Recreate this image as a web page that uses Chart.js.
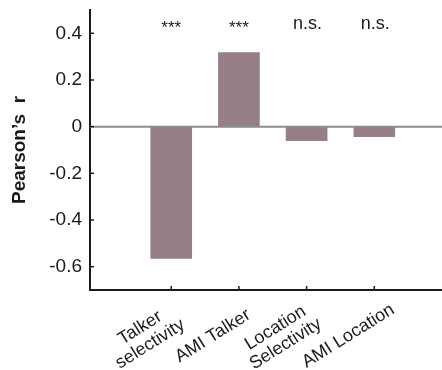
<!DOCTYPE html>
<html>
<head>
<meta charset="utf-8">
<script src="https://cdn.jsdelivr.net/npm/chart.js@4"></script>
<style>
  body { margin: 0; background: #fff; }
  #wrap { width: 442px; height: 370px; position: relative; }
</style>
</head>
<body>
<div id="wrap"><canvas id="corrChart"></canvas></div>
<script>
// Chart data
const categories = [['Talker', 'selectivity'], ['AMI Talker'], ['Location', 'Selectivity'], ['AMI Location']];
const correlations = [-0.565, 0.317, -0.06, -0.043];
const sigLabels = ['***', '***', 'n.s.', 'n.s.'];
const yTicks = [-0.6, -0.4, -0.2, 0, 0.2, 0.4];

const FONT = '"Liberation Sans", Arial, Helvetica, sans-serif';
const barColor = '#968085';
const axisColor = '#1a1a1a';

// Zero line, inward ticks, category labels and significance labels
const extrasPlugin = {
    id: 'extras',
    afterDatasetsDraw(chart) {
        const ctx = chart.ctx;
        const x = chart.scales.x;
        const y = chart.scales.y;
        const area = chart.chartArea;
        ctx.save();

        // grey line at r = 0
        const y0 = y.getPixelForValue(0);
        ctx.strokeStyle = '#8c8c8c';
        ctx.lineWidth = 2;
        ctx.beginPath();
        ctx.moveTo(area.left, y0);
        ctx.lineTo(area.right, y0);
        ctx.stroke();

        // inward tick marks
        ctx.strokeStyle = axisColor;
        ctx.lineWidth = 1.5;
        yTicks.forEach(v => {
            const py = y.getPixelForValue(v);
            ctx.beginPath();
            ctx.moveTo(area.left, py);
            ctx.lineTo(area.left + 4, py);
            ctx.stroke();
        });
        categories.forEach((c, i) => {
            const px = x.getPixelForValue(i + 1);
            ctx.beginPath();
            ctx.moveTo(px, area.bottom);
            ctx.lineTo(px, area.bottom - 4);
            ctx.stroke();
        });

        // rotated category labels, lines centred on each other
        ctx.fillStyle = '#1a1a1a';
        ctx.font = '18px ' + FONT;
        ctx.textAlign = 'center';
        ctx.textBaseline = 'middle';
        const lineH = 19;
        categories.forEach((lines, i) => {
            const px = x.getPixelForValue(i + 1);
            ctx.save();
            ctx.translate(px - 26, area.bottom + 46);
            ctx.rotate(-32 * Math.PI / 180);
            lines.forEach((t, j) => {
                ctx.fillText(t, 0, (j - (lines.length - 1) / 2) * lineH);
            });
            ctx.restore();
        });

        // significance labels above bars
        ctx.textBaseline = 'alphabetic';
        const meta = chart.getDatasetMeta(0);
        sigLabels.forEach((s, i) => {
            const px = meta.data[i].x;
            if (s === '***') {
                ctx.font = '17px ' + FONT;
                ctx.fillText(s, px, 33);
            } else {
                ctx.font = '18px ' + FONT;
                ctx.fillText(s, px + 1, 29);
            }
        });
        ctx.restore();
    }
};

const ctx = document.getElementById('corrChart').getContext('2d');
new Chart(ctx, {
    type: 'bar',
    data: {
        datasets: [{
            data: correlations.map((v, i) => ({ x: i + 1, y: v })),
            backgroundColor: barColor,
            borderWidth: 0,
            barThickness: 41
        }]
    },
    options: {
        responsive: true,
        maintainAspectRatio: false,
        animation: false,
        layout: { padding: { top: 10, right: 0, left: 0, bottom: 0 } },
        plugins: {
            legend: { display: false },
            tooltip: { enabled: false }
        },
        scales: {
            x: {
                type: 'linear',
                offset: false,
                min: -0.2,
                max: 5,
                grid: { display: false, drawTicks: false, offset: false },
                border: { color: axisColor, width: 2 },
                afterBuildTicks: scale => {
                    scale.ticks = categories.map((c, i) => ({ value: i + 1 }));
                },
                afterFit: scale => {
                    scale.height = 80;
                    scale.paddingLeft = 0;
                    scale.paddingRight = 0;
                },
                ticks: { display: false }
            },
            y: {
                min: -0.7,
                max: 0.5,
                grid: { display: false, drawTicks: false },
                border: { color: axisColor, width: 2 },
                afterBuildTicks: scale => {
                    scale.ticks = yTicks.map(v => ({ value: v }));
                },
                afterFit: scale => {
                    scale.width = 90;
                    scale.paddingTop = 0;
                    scale.paddingBottom = 0;
                },
                ticks: {
                    padding: 8,
                    color: '#1a1a1a',
                    font: { family: FONT, size: 19 },
                    callback: value => value === 0 ? '0' : value.toFixed(1)
                },
                title: {
                    display: true,
                    text: 'Pearson\u2019s  r',
                    color: '#1a1a1a',
                    font: { family: FONT, size: 19, weight: 'bold' },
                    padding: { top: 8, bottom: 0 }
                }
            }
        }
    },
    plugins: [extrasPlugin]
});
</script>
</body>
</html>
